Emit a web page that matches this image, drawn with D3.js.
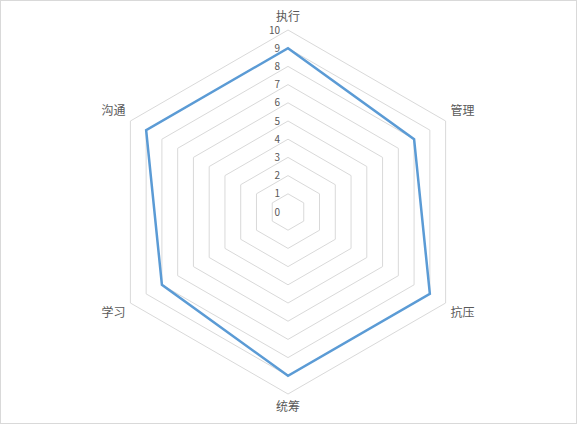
<!DOCTYPE html>
<html>
<head>
<meta charset="utf-8">
<script src="https://cdn.jsdelivr.net/npm/d3@7"></script>
<style>
  body { margin: 0; background: #fff; }
  svg { display: block; font-family: "Microsoft YaHei", "Noto Sans CJK SC", sans-serif; }
</style>
</head>
<body>
<svg id="chart" width="577" height="424"></svg>
<script>
// categories, clockwise from the top
var categories = ["执行", "管理", "抗压", "统筹", "学习", "沟通"];
var scores = [9, 8, 9, 9, 8, 9];
var tickLabels = [0, 1, 2, 3, 4, 5, 6, 7, 8, 9, 10];

var W = 577, H = 424;
var cx = 288, cy = 212, radius = 182;

var svg = d3.select("#chart");

// light frame round the chart
svg.append("rect")
  .attr("x", 0.5).attr("y", 0.5)
  .attr("width", W - 1).attr("height", H - 1)
  .attr("fill", "#fff").attr("stroke", "#d9d9d9");

var r = d3.scaleLinear().domain([0, 10]).range([0, radius]);
var angle = d3.scaleLinear().domain([0, categories.length]).range([0, 2 * Math.PI]);

var g = svg.append("g").attr("transform", "translate(" + cx + "," + cy + ")");

var radial = d3.lineRadial()
  .angle(function(d, i) { return angle(i); })
  .curve(d3.curveLinearClosed);

// hexagon rings for every tick
g.selectAll(".ring")
  .data(tickLabels.filter(function(t) { return t > 0; }))
  .enter().append("path")
  .attr("class", "ring")
  .attr("d", function(t) {
    return radial.radius(function() { return r(t); })(categories);
  })
  .attr("fill", "none")
  .attr("stroke", "#d9d9d9")
  .attr("stroke-width", 1);

// tick numbers up the vertical axis
g.selectAll(".tick")
  .data(tickLabels)
  .enter().append("text")
  .attr("class", "tick")
  .attr("x", -8)
  .attr("y", function(t) { return -r(t); })
  .attr("dy", "0.36em")
  .attr("text-anchor", "end")
  .attr("font-size", 10)
  .attr("fill", "#595959")
  .text(function(t) { return t; });

// data line
g.append("path")
  .datum(scores)
  .attr("d", d3.lineRadial()
    .angle(function(d, i) { return angle(i); })
    .radius(function(d) { return r(d); })
    .curve(d3.curveLinearClosed))
  .attr("fill", "none")
  .attr("stroke", "#5b9bd5")
  .attr("stroke-width", 2.5)
  .attr("stroke-linejoin", "miter");

// category labels just outside the outer ring
g.selectAll(".cat")
  .data(categories)
  .enter().append("text")
  .attr("class", "cat")
  .attr("x", function(d, i) {
    var a = angle(i), s = Math.sin(a);
    return Math.sin(a) * r(10) + (Math.abs(s) > 0.01 ? (s > 0 ? 17 : -17) : 0);
  })
  .attr("y", function(d, i) {
    var a = angle(i), c = Math.cos(a);
    if (Math.abs(Math.sin(a)) < 0.01) return -c * r(10) - c * 13;
    return -c * r(10) + (c > 0 ? -10 : 10);
  })
  .attr("dy", "0.36em")
  .attr("text-anchor", "middle")
  .attr("font-size", 12)
  .attr("fill", "#595959")
  .text(function(d) { return d; });
</script>
</body>
</html>
